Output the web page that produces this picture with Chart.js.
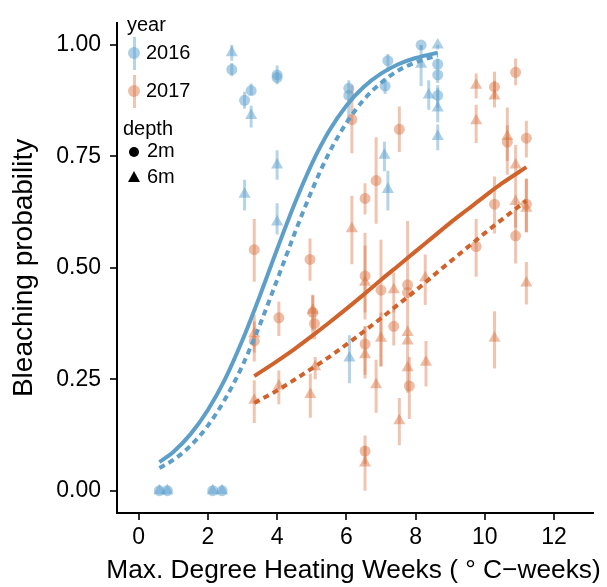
<!DOCTYPE html>
<html>
<head>
<meta charset="utf-8">
<script src="https://cdn.jsdelivr.net/npm/chart.js@4.4.0/dist/chart.umd.min.js"></script>
<style>
  body { margin: 0; background: #fff; font-family: "Liberation Sans", Arial, sans-serif; }
  #wrap { position: relative; width: 607px; height: 587px; }
  .lg { position: absolute; font-size: 20px; line-height: 20px; color: #000; white-space: nowrap; }
  .bar { position: absolute; width: 3px; }
  .dot { position: absolute; border-radius: 50%; }
  .tri { position: absolute; width: 0; height: 0; border-left: 6.5px solid transparent; border-right: 6.5px solid transparent; border-bottom: 11px solid #000; }
  #xtitle { position: absolute; left: 353.5px; top: 556px; transform: translateX(-50%); font-size: 26.3px; line-height: 26.3px; color: #000; white-space: nowrap; }
</style>
</head>
<body>
<div id="wrap">
  <canvas id="chart" width="607" height="587"></canvas>
  <div id="xtitle">Max. Degree Heating Weeks ( ° C−weeks)</div>
  <div class="lg" style="left:127px;top:14px">year</div>
  <div class="bar" style="left:133px;top:37px;height:33px;background:rgba(91,160,205,0.45)"></div>
  <div class="dot" style="left:128px;top:47px;width:12px;height:12px;background:rgba(91,160,205,0.5)"></div>
  <div class="lg" style="left:146px;top:42px">2016</div>
  <div class="bar" style="left:133px;top:75px;height:33px;background:rgba(214,110,60,0.4)"></div>
  <div class="dot" style="left:128px;top:85px;width:12px;height:12px;background:rgba(214,110,60,0.45)"></div>
  <div class="lg" style="left:146px;top:80px">2017</div>
  <div class="lg" style="left:123px;top:118px">depth</div>
  <div class="dot" style="left:129px;top:147px;width:10px;height:10px;background:#000"></div>
  <div class="lg" style="left:147px;top:140px">2m</div>
  <div class="tri" style="left:127.5px;top:171px"></div>
  <div class="lg" style="left:147px;top:166px">6m</div>
</div>
<script>
// axis ticks
const xTicks = [0, 2, 4, 6, 8, 10, 12];
const yTicks = [0, 0.25, 0.5, 0.75, 1];

// 2016, 2m (circles)
const x16_2m  = [0.6, 0.83, 2.14, 2.41, 2.69, 3.06, 3.25, 4.0, 4.0, 6.07, 6.07, 7.12, 7.2, 8.16, 8.64, 8.64, 8.64];
const y16_2m  = [0, 0, 0, 0, 0.945, 0.876, 0.898, 0.933, 0.927, 0.903, 0.887, 0.908, 0.965, 1.0, 0.957, 0.933, 0.887];
const lo16_2m = [0, 0, 0, 0, 0.93, 0.857, 0.888, 0.912, 0.912, 0.86, 0.84, 0.89, 0.94, 0.99, 0.94, 0.915, 0.86];
const hi16_2m = [0, 0, 0, 0, 0.96, 0.895, 0.914, 0.954, 0.95, 0.921, 0.91, 0.925, 0.98, 1.0, 0.97, 0.95, 0.91];

// 2016, 6m (triangles)
const x16_6m  = [0.6, 0.83, 2.14, 2.41, 2.69, 3.06, 3.25, 4.0, 4.0, 6.09, 7.1, 7.2, 8.16, 8.38, 8.64, 8.64, 8.64];
const y16_6m  = [0, 0, 0, 0, 0.983, 0.665, 0.842, 0.731, 0.603, 0.298, 0.753, 0.676, 0.957, 0.888, 1.0, 0.859, 0.795];
const lo16_6m = [0, 0, 0, 0, 0.965, 0.629, 0.815, 0.698, 0.575, 0.241, 0.717, 0.629, 0.908, 0.855, 0.99, 0.827, 0.764];
const hi16_6m = [0, 0, 0, 0, 1.0, 0.698, 0.864, 0.764, 0.645, 0.349, 0.783, 0.718, 1.0, 0.921, 1.0, 0.903, 0.822];

// 2017, 2m (circles)
const x17_2m  = [3.34, 3.34, 4.05, 4.95, 5.03, 5.08, 6.16, 6.54, 6.54, 6.54, 6.54, 6.86, 7.0, 7.37, 7.53, 7.77, 7.77, 7.82, 9.75, 10.28, 10.28, 10.65, 10.89, 10.89, 11.2, 11.2];
const y17_2m  = [0.541, 0.336, 0.388, 0.519, 0.40, 0.375, 0.833, 0.656, 0.482, 0.329, 0.089, 0.696, 0.45, 0.369, 0.811, 0.462, 0.445, 0.235, 0.548, 0.906, 0.643, 0.782, 0.939, 0.572, 0.791, 0.643];
const lo17_2m = [0.469, 0.29, 0.347, 0.471, 0.34, 0.34, 0.757, 0.62, 0.384, 0.26, 0.06, 0.599, 0.278, 0.326, 0.76, 0.417, 0.40, 0.161, 0.48, 0.88, 0.577, 0.709, 0.91, 0.51, 0.748, 0.58];
const hi17_2m = [0.61, 0.38, 0.424, 0.566, 0.44, 0.41, 0.91, 0.69, 0.579, 0.369, 0.124, 0.793, 0.563, 0.41, 0.862, 0.605, 0.50, 0.30, 0.61, 0.94, 0.705, 0.82, 0.97, 0.63, 0.83, 0.70];

// 2017, 6m (triangles)
const x17_6m  = [3.34, 3.34, 4.05, 4.96, 5.03, 5.1, 6.16, 6.54, 6.54, 6.54, 6.86, 7.0, 7.37, 7.53, 7.77, 7.77, 7.77, 8.28, 8.3, 9.75, 9.75, 10.28, 10.28, 10.65, 10.89, 10.89, 11.2, 11.2];
const y17_6m  = [0.352, 0.203, 0.235, 0.216, 0.405, 0.278, 0.588, 0.468, 0.305, 0.062, 0.238, 0.342, 0.451, 0.157, 0.355, 0.336, 0.276, 0.478, 0.288, 0.91, 0.83, 0.886, 0.342, 0.795, 0.731, 0.649, 0.634, 0.466];
const lo17_6m = [0.31, 0.152, 0.194, 0.164, 0.36, 0.25, 0.508, 0.40, 0.252, 0.0, 0.175, 0.28, 0.40, 0.102, 0.30, 0.28, 0.22, 0.417, 0.234, 0.88, 0.78, 0.86, 0.274, 0.74, 0.68, 0.59, 0.58, 0.418];
const hi17_6m = [0.395, 0.248, 0.27, 0.263, 0.438, 0.30, 0.662, 0.55, 0.369, 0.10, 0.294, 0.40, 0.49, 0.208, 0.40, 0.38, 0.32, 0.53, 0.336, 0.936, 0.866, 0.92, 0.403, 0.86, 0.776, 0.70, 0.70, 0.513];

// fitted curves, every half unit
const fit16_2m_x = [0.6, 1, 1.5, 2, 2.5, 3, 3.5, 4, 4.5, 5, 5.5, 6, 6.5, 7, 7.5, 8, 8.64];
const fit16_2m_y = [0.064, 0.087, 0.127, 0.181, 0.251, 0.338, 0.437, 0.542, 0.643, 0.733, 0.807, 0.864, 0.906, 0.936, 0.957, 0.971, 0.983];
const fit16_6m_x = [0.6, 1, 1.5, 2, 2.5, 3, 3.5, 4, 4.5, 5, 5.5, 6, 6.5, 7, 7.5, 8, 8.64];
const fit16_6m_y = [0.051, 0.069, 0.101, 0.146, 0.206, 0.281, 0.372, 0.473, 0.576, 0.673, 0.758, 0.825, 0.877, 0.915, 0.943, 0.961, 0.977];
const fit17_2m_x = [3.34, 4, 4.5, 5, 5.5, 6, 6.5, 7, 7.5, 8, 8.5, 9, 9.5, 10, 10.5, 11.2];
const fit17_2m_y = [0.257, 0.291, 0.318, 0.347, 0.377, 0.408, 0.44, 0.473, 0.505, 0.537, 0.569, 0.601, 0.631, 0.661, 0.69, 0.726];
const fit17_6m_x = [3.34, 4, 4.5, 5, 5.5, 6, 6.5, 7, 7.5, 8, 8.5, 9, 9.5, 10, 10.5, 11.2];
const fit17_6m_y = [0.197, 0.225, 0.249, 0.274, 0.30, 0.328, 0.357, 0.387, 0.418, 0.449, 0.482, 0.514, 0.546, 0.578, 0.609, 0.651];

const blueLine = '#5e9fc9';
const orangeLine = '#d0632b';
const bluePt = 'rgba(91,160,205,0.5)';
const orangePt = 'rgba(214,110,60,0.45)';
const blueBar = 'rgba(91,160,205,0.45)';
const orangeBar = 'rgba(214,110,60,0.4)';

function pts(xs, ys) {
  return xs.map((x, i) => ({x: x, y: ys[i]}));
}

// vertical error bars: pairs of points split by gaps
function bars(xs, lo, hi) {
  const out = [];
  xs.forEach((x, i) => {
    out.push({x: x, y: lo[i]}, {x: x, y: hi[i]}, {x: x, y: null});
  });
  return out;
}

function barSet(xs, lo, hi, color) {
  return {
    data: bars(xs, lo, hi), showLine: true, spanGaps: false,
    borderColor: color, borderWidth: 3, borderCapStyle: 'butt',
    pointRadius: 0, order: 3
  };
}

function pointSet(xs, ys, color, style) {
  return {
    data: pts(xs, ys), pointStyle: style,
    pointRadius: style === 'triangle' ? 7 : 5.5,
    backgroundColor: color, borderWidth: 0, order: 2
  };
}

function fitSet(xs, ys, color, dashed) {
  return {
    data: pts(xs, ys), showLine: true, borderColor: color, borderWidth: 4,
    borderDash: dashed ? [6, 4.5] : [], pointRadius: 0,
    cubicInterpolationMode: 'monotone', order: 1
  };
}

const datasets = [
  barSet(x16_2m, lo16_2m, hi16_2m, blueBar),
  barSet(x16_6m, lo16_6m, hi16_6m, blueBar),
  barSet(x17_2m, lo17_2m, hi17_2m, orangeBar),
  barSet(x17_6m, lo17_6m, hi17_6m, orangeBar),
  pointSet(x16_2m, y16_2m, bluePt, 'circle'),
  pointSet(x16_6m, y16_6m, bluePt, 'triangle'),
  pointSet(x17_2m, y17_2m, orangePt, 'circle'),
  pointSet(x17_6m, y17_6m, orangePt, 'triangle'),
  fitSet(fit16_2m_x, fit16_2m_y, blueLine, false),
  fitSet(fit16_6m_x, fit16_6m_y, blueLine, true),
  fitSet(fit17_2m_x, fit17_2m_y, orangeLine, false),
  fitSet(fit17_6m_x, fit17_6m_y, orangeLine, true)
];

const fontFam = '"Liberation Sans", Arial, sans-serif';

new Chart(document.getElementById('chart'), {
  type: 'scatter',
  data: { datasets: datasets },
  options: {
    responsive: false,
    animation: false,
    devicePixelRatio: 1,
    layout: { padding: { left: 0, right: 14, top: 11, bottom: 0 } },
    plugins: { legend: { display: false }, tooltip: { enabled: false } },
    scales: {
      x: {
        type: 'linear', min: -0.625, max: 13.125,
        afterBuildTicks: s => { s.ticks = xTicks.map(v => ({value: v})); },
        afterFit: s => { s.height = 74; },
        ticks: { font: { family: fontFam, size: 23 }, color: '#000', padding: 4, maxRotation: 0 },
        grid: { drawOnChartArea: false, drawTicks: true, tickLength: 7, color: '#333', lineWidth: 2 },
        border: { display: true, color: '#000', width: 2 },
        // the x title is an HTML div below, Chart.js would squeeze it to the axis width
        title: { display: false }
      },
      y: {
        type: 'linear', min: -0.05, max: 1.05,
        afterBuildTicks: s => { s.ticks = yTicks.map(v => ({value: v})); },
        afterFit: s => { s.width = 117; },
        ticks: { font: { family: fontFam, size: 23 }, color: '#000', padding: 9,
                 callback: v => v.toFixed(2) },
        grid: { drawOnChartArea: false, drawTicks: true, tickLength: 7, color: '#333', lineWidth: 2 },
        border: { display: true, color: '#000', width: 2 },
        title: { display: true, text: 'Bleaching probability', color: '#000',
                 font: { family: fontFam, size: 28 }, padding: { top: 7, bottom: 0 } }
      }
    }
  }
});
</script>
</body>
</html>
